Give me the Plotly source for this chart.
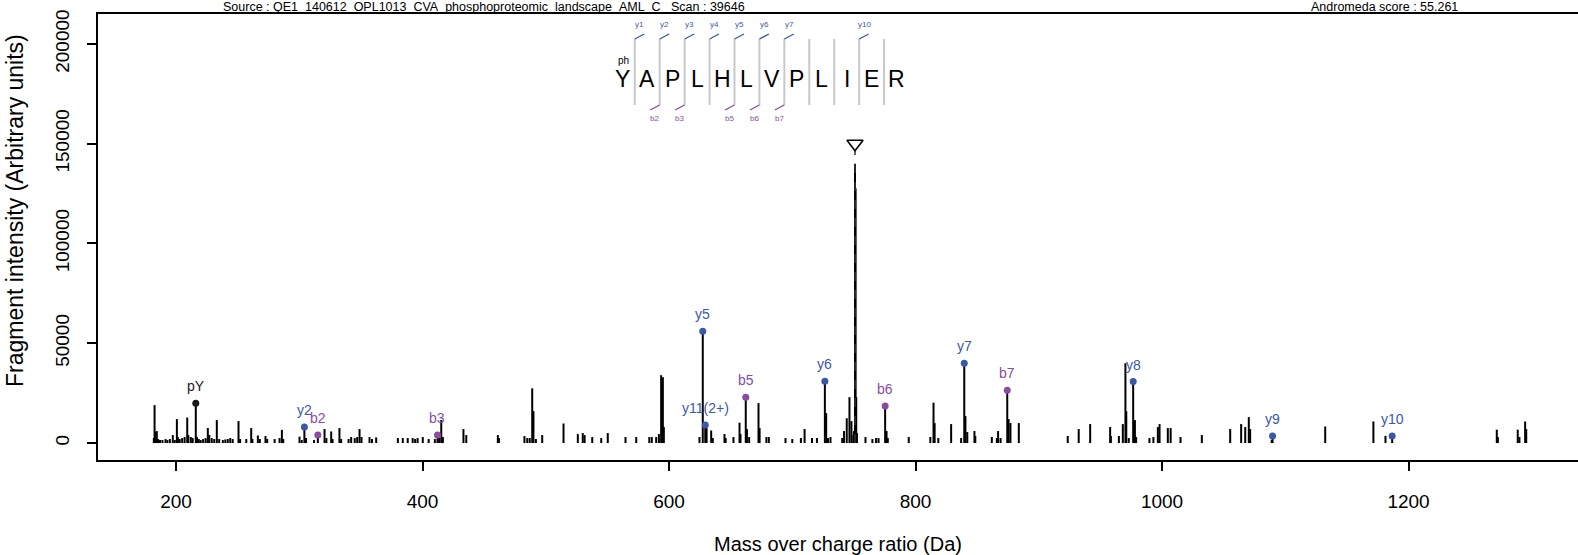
import plotly.graph_objects as go

# ---------------- data ----------------
peak_mz = [
    182.0, 182.6, 183.2, 184.4, 185.5, 187.0, 189.0, 191.5, 193.0, 195.0, 197.4, 199.0,
    200.7, 201.5, 203.0, 205.0, 207.0, 209.1, 210.0, 212.0, 213.5, 217.0, 218.5, 220.0,
    222.0, 224.0, 225.8, 227.0, 229.0, 231.0, 233.1, 235.0, 238.0, 240.0, 242.0, 244.0,
    246.0, 250.7, 252.0, 257.0, 261.0, 262.0, 266.4, 268.0, 272.6, 274.0, 280.0, 284.0,
    285.9, 287.0, 300.2, 302.0, 305.5, 312.0, 320.5, 322.0, 325.9, 327.0, 332.6, 334.0,
    340.0, 342.1, 345.0, 347.0, 348.9, 350.5, 357.0, 359.0, 362.4, 380.0, 384.0, 388.0,
    392.0, 394.0, 396.0, 400.2, 405.0, 410.0, 413.5, 415.2, 416.5,
    433.2, 435.5, 461.1, 462.0, 482.7, 485.0, 487.0, 489.0, 490.0, 492.0, 497.1, 514.4,
    526.0, 530.0, 531.5, 537.7, 545.0, 550.3, 564.7, 573.4, 584.0, 586.0, 589.6, 591.8,
    593.6, 595.0, 595.8, 624.7, 630.5, 634.2, 635.5, 645.0, 646.0, 652.3, 657.2, 658.0,
    663.2, 665.0, 672.6, 673.5, 679.0, 681.0,
    694.5, 700.0, 707.0, 710.0, 716.0, 720.0, 727.5, 729.0, 731.0, 740.5, 742.0, 744.2,
    746.4, 748.0, 749.5, 750.0, 751.4, 751.9, 752.5, 759.4, 765.0, 768.0, 770.0, 776.5,
    777.5, 794.5, 812.0, 814.6, 815.5, 818.5, 828.9, 837.0, 840.5, 842.0, 847.8, 848.5,
    861.9, 866.0, 867.0, 869.0, 875.5, 877.0, 883.8, 923.5, 932.4, 941.7, 957.9, 958.5,
    965.0, 968.2, 970.3, 971.0, 973.0, 978.0, 979.0, 989.8, 993.0, 996.6, 998.0, 1004.7,
    1007.0, 1015.0, 1032.3, 1055.3, 1064.2, 1067.5, 1070.4, 1071.5, 1089.0, 1132.4,
    1171.5, 1181.3, 1271.6, 1272.5, 1288.6, 1290.0, 1294.6, 1295.5,
]
peak_int = [
    2500, 19000, 5500, 6000, 2000, 1500, 1500, 2000, 1500, 2000, 4000, 1500,
    12000, 3000, 2000, 2500, 3000, 12800, 4000, 3000, 2500, 3000, 2000, 1500,
    2000, 2500, 7500, 4000, 2500, 2000, 11500, 2000, 1500, 1800, 2000, 2500,
    2000, 11000, 2000, 2000, 7500, 2000, 3800, 2000, 3500, 2000, 2000, 2500,
    6600, 2000, 3200, 1500, 2500, 1500, 7000, 2500, 5800, 2000, 7500, 2000,
    2000, 3000, 2500, 3000, 7000, 3000, 3000, 2000, 2800, 2500, 2500, 2500,
    2500, 2000, 2500, 3000, 2000, 2000, 2500, 11500, 3000,
    7000, 4000, 4000, 2500, 3500, 2500, 2500, 27400, 16000, 2000, 4000, 9800,
    4500, 5000, 4000, 3000, 2500, 5000, 3000, 3000, 3000, 3000, 3000, 4500,
    34000, 33000, 8000, 3000, 7500, 6300, 2500, 4500, 2500, 3000, 10200, 4500,
    7000, 3000, 20000, 7500, 3000, 3000,
    2500, 2000, 2500, 7000, 2500, 2500, 15000, 2500, 3000, 2500, 6000, 12400,
    23000, 11000, 4000, 6000, 127600, 23000, 5000, 3000, 2000, 2500, 2500, 6000,
    2500, 3000, 3000, 20200, 10000, 2500, 9500, 2500, 13500, 5500, 6000, 3500,
    3000, 2500, 6000, 2500, 12000, 10000, 10000, 3500, 7000, 9500, 8000, 3500,
    3500, 9500, 40000, 16000, 2500, 11500, 3000, 2500, 3000, 8000, 9500, 7500,
    7500, 3000, 4000, 7000, 9500, 8000, 13000, 7000, 1500, 8300,
    10800, 3600, 6700, 3000, 6700, 3000, 10800, 7000,
]

ion_labels = ["pY", "y2", "b2", "b3", "y5", "y11(2+)", "b5", "y6", "b6", "y7", "b7", "y8", "y9", "y10"]
ion_mz = [216.04, 304.16, 315.07, 412.12, 627.38, 629.39, 662.26, 726.45, 775.35, 839.54, 874.42, 976.59, 1089.68, 1186.73]
ion_int = [20000, 8000, 4000, 4000, 56000, 9000, 23000, 31000, 18500, 40000, 26500, 30800, 3500, 3500]
ion_type = ["imm", "y", "b", "b", "y", "y", "b", "y", "b", "y", "b", "y", "y", "y"]

precursor_mz = 750.90
precursor_int = 140000
precursor_marker = 150000

residues = list("YAPLHLVPLIER")
y_marks = [1, 2, 3, 4, 5, 6, 7, 10]
b_marks = [2, 3, 5, 6, 7]

x_ticks = [200, 400, 600, 800, 1000, 1200]
y_ticks = [0, 50000, 100000, 150000, 200000]

source_text = "Source : QE1_140612_OPL1013_CVA_phosphoproteomic_landscape_AML_C   Scan : 39646"
score_text = "Andromeda score : 55.261"
x_title = "Mass over charge ratio (Da)"
y_title = "Fragment intensity (Arbitrary units)"

# ---------------- styling ----------------
FONT = "Liberation Sans, Arial, Helvetica, sans-serif"
COL = {"y": "#3B58A8", "b": "#8A4C9E", "imm": "#1a1a1a"}
W, H = 1578, 555
ML, MR, MT, MB = 98, 0, 14, 95
PW, PH = W - ML - MR, H - MT - MB


def px(xp):
    return (xp - ML) / PW


def py(yp):
    return (H - MB - yp) / PH


def paper_text(xp, yp, text, size, color="black", angle=0):
    fig.add_annotation(x=px(xp), y=py(yp), xref="paper", yref="paper", text=text,
                       xanchor="center", yanchor="middle", showarrow=False, textangle=angle,
                       font=dict(family=FONT, size=size, color=color))


fig = go.Figure()

# all peaks as stems
xs, ys = [], []
for m, i in zip(peak_mz + ion_mz + [precursor_mz], peak_int + ion_int + [precursor_int]):
    xs += [m, m, None]
    ys += [0, i, None]
fig.add_trace(go.Scatter(x=xs, y=ys, mode="lines", line=dict(color="black", width=2),
                         hoverinfo="skip", showlegend=False))

# precursor dashed line + triangle
fig.add_trace(go.Scatter(x=[precursor_mz, precursor_mz], y=[0, precursor_marker - 3500], mode="lines",
                         line=dict(color="#333333", width=1.5, dash="dash"), showlegend=False))
fig.add_trace(go.Scatter(x=[precursor_mz], y=[precursor_marker], mode="markers",
                         marker=dict(symbol="triangle-down-open", size=14, color="black",
                                     line=dict(width=1.6, color="black")), showlegend=False))

# ion dots + labels
fig.add_trace(go.Scatter(x=ion_mz, y=ion_int, mode="markers",
                         marker=dict(size=7, color=[COL[t] for t in ion_type]), showlegend=False))
for lab, m, i, t in zip(ion_labels, ion_mz, ion_int, ion_type):
    fig.add_annotation(x=m, y=i, text=lab, showarrow=False, yanchor="bottom", yshift=7,
                       font=dict(family=FONT, size=14, color=COL[t]))

# header texts
paper_text(484, 7, source_text, 12.5)
paper_text(1384, 7, score_text, 12.5)

# y axis title (placed as in the reference)
paper_text(15, 211, y_title, 23, angle=-90)

# peptide sequence diagram
step = 24.93
x0 = 622.3
for k, r in enumerate(residues):
    paper_text(x0 + k * step, 78.5, r, 23)
paper_text(x0 + 1, 60.5, "ph", 10)
for k in range(1, len(residues)):
    sx = x0 + (k - 0.5) * step
    fig.add_shape(type="line", xref="paper", yref="paper", x0=px(sx), x1=px(sx), y0=py(39), y1=py(105),
                  line=dict(color="#c8c8c8", width=2))
for k in y_marks:
    sx = x0 + (k - 0.5) * step
    fig.add_shape(type="line", xref="paper", yref="paper", x0=px(sx), x1=px(sx + 9.5), y0=py(39), y1=py(34),
                  line=dict(color=COL["y"], width=1.4))
    paper_text(sx + 5, 25, "y%d" % k, 8, COL["y"])
for k in b_marks:
    sx = x0 + (k - 0.5) * step
    fig.add_shape(type="line", xref="paper", yref="paper", x0=px(sx), x1=px(sx - 9.5), y0=py(105), y1=py(110),
                  line=dict(color=COL["b"], width=1.4))
    paper_text(sx - 5, 118, "b%d" % k, 8, COL["b"])

fig.update_layout(
    width=W, height=H,
    margin=dict(l=ML, r=MR, t=MT, b=MB, pad=0),
    paper_bgcolor="white", plot_bgcolor="white",
    font=dict(family=FONT, color="black"),
    showlegend=False,
    xaxis=dict(range=[136.7, 1337.5], tickvals=x_ticks, ticks="outside", ticklen=9, tickwidth=1.5,
               tickcolor="black", showline=True, linecolor="black", linewidth=2, mirror=True,
               showgrid=False, zeroline=False, automargin=False, ticklabelstandoff=14,
               tickfont=dict(family=FONT, size=19),
               title=dict(text=x_title, font=dict(family=FONT, size=20), standoff=27)),
    yaxis=dict(range=[-8500, 215000], tickvals=y_ticks, ticktext=[str(v) for v in y_ticks], tickangle=-90,
               ticks="outside", ticklen=9, tickwidth=1.5, tickcolor="black", showline=True,
               linecolor="black", linewidth=2, showgrid=False, zeroline=False, automargin=False,
               ticklabelstandoff=10, tickfont=dict(family=FONT, size=19)),
)

fig.write_html("out.html", config={"displayModeBar": False},
               post_script="document.body.style.margin='0px';document.body.style.overflow='hidden';")
